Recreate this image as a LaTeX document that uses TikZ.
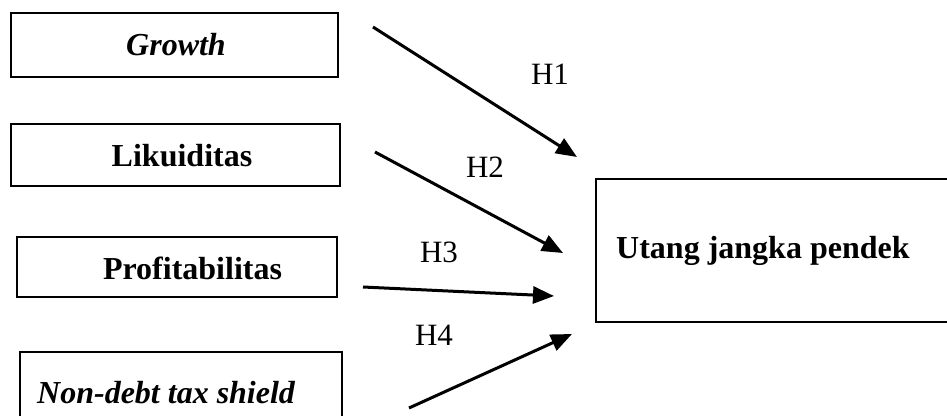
\documentclass[tikz,border=0pt]{standalone}
\usepackage{fontspec}
\setmainfont{Liberation Serif}
\usetikzlibrary{arrows.meta}
\begin{document}
\begin{tikzpicture}[x=1pt,y=-1pt,
  box/.style={draw,line width=2pt,inner sep=0pt},
  lbl/.style={font=\fontsize{32}{37}\selectfont\bfseries,inner sep=0pt},
  hlbl/.style={font=\fontsize{31}{36}\selectfont,inner sep=0pt},
  arr/.style={line width=3pt,-{Triangle[length=21pt,width=17pt]}}]
\useasboundingbox (0,0) rectangle (947,415);
% boxes
\node[box,minimum width=327pt,minimum height=64pt] (growth) at (174.5,45) {};
\node[box,minimum width=329pt,minimum height=62pt] (lik) at (175.5,155) {};
\node[box,minimum width=320pt,minimum height=60pt] (prof) at (177,267) {};
\node[box,minimum width=322pt,minimum height=84pt] (ndts) at (181,394) {};
\node[box,minimum width=420pt,minimum height=143pt] (utang) at (806,250.5) {};
% texts
\node[lbl] (tgrowth) at (176,45) {\itshape Growth};
\node[lbl] (tlik) at (182,156) {Likuiditas};
\node[lbl] (tprof) at (192.5,268) {Profitabilitas};
\node[lbl,anchor=west] (tndts) at (37,393) {\itshape Non-debt tax shield};
\node[lbl,anchor=west] (tutang) at (616,251) {Utang jangka pendek};
% arrow ends
\coordinate (s1) at (373,27);  \coordinate (e1) at (577,157);
\coordinate (s2) at (375,152); \coordinate (e2) at (563,253);
\coordinate (s3) at (363,287); \coordinate (e3) at (554,296);
\coordinate (s4) at (409,408); \coordinate (e4) at (572,334);
\draw[arr] (s1) -- (e1);
\draw[arr] (s2) -- (e2);
\draw[arr] (s3) -- (e3);
\draw[arr] (s4) -- (e4);
% hypothesis labels
\node[hlbl] (h1) at (550,74) {H1};
\node[hlbl] (h2) at (485,167) {H2};
\node[hlbl] (h3) at (439,252) {H3};
\node[hlbl] (h4) at (434,335) {H4};
\end{tikzpicture}
\end{document}
